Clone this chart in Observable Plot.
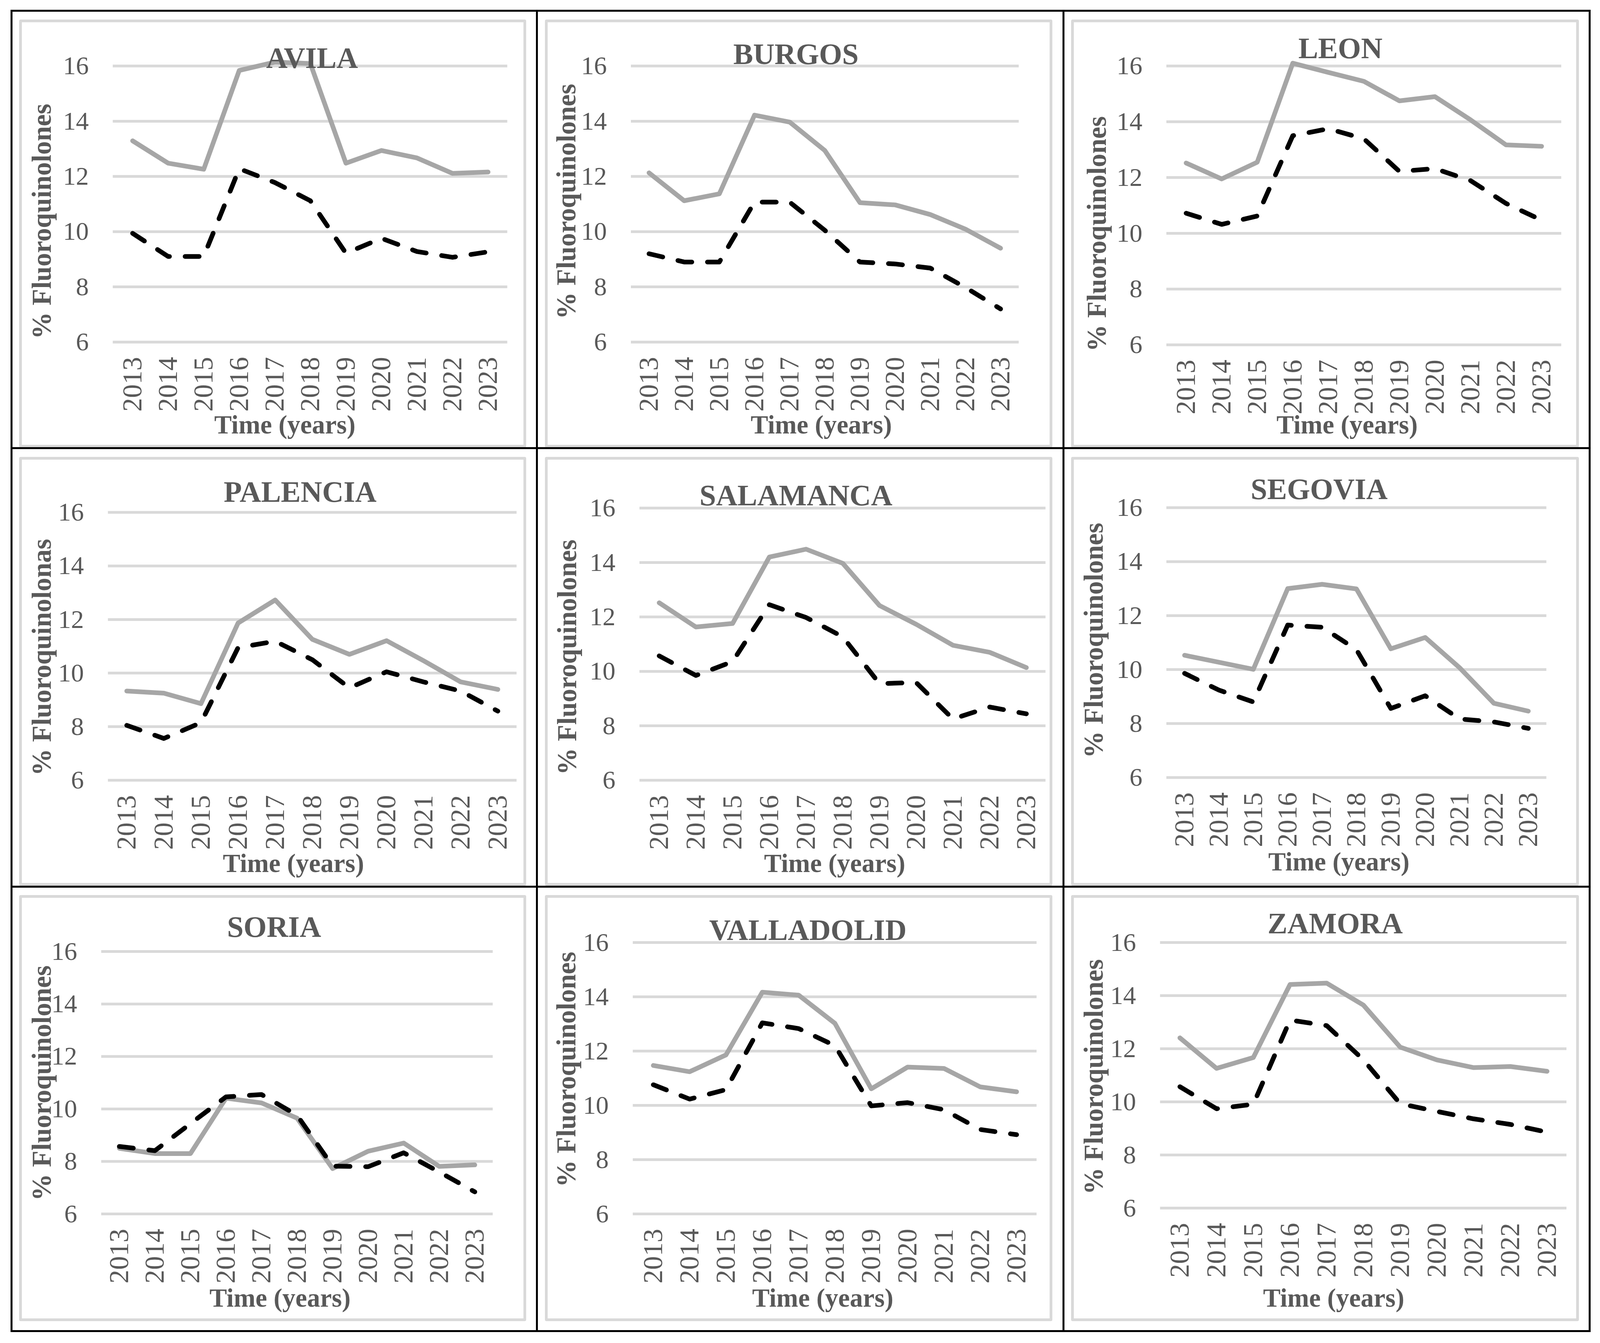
<!DOCTYPE html>
<html><head><meta charset="utf-8">
<script src="https://cdn.jsdelivr.net/npm/d3@7"></script>
<script src="https://cdn.jsdelivr.net/npm/@observablehq/plot@0.6"></script>
<style>
html,body{margin:0;padding:0;background:#fff;overflow:hidden;}
#page{position:relative;background:#fff;overflow:hidden;}
.hline,.vline{position:absolute;background:#000;}
.box{position:absolute;box-sizing:border-box;border:7px solid #d9d9d9;border-radius:4px;}
.panel{position:absolute;}
.panel svg{overflow:visible;}
</style></head><body><div id="page"></div>
<script>
// ---------- data ----------
const years = [2013, 2014, 2015, 2016, 2017, 2018, 2019, 2020, 2021, 2022, 2023];
const provinces = ["AVILA", "BURGOS", "LEON", "PALENCIA", "SALAMANCA", "SEGOVIA", "SORIA", "VALLADOLID", "ZAMORA"];
const yAxisTitles = ["% Fluoroquinolones", "% Fluoroquinolones", "% Fluoroquinolones",
  "% Fluoroquinolonas", "% Fluoroquinolones", "% Fluoroquinolones",
  "% Fluoroquinolones", "% Fluoroquinolones", "% Fluoroquinolones"];
const xAxisTitle = "Time (years)";
const yTicks = [6, 8, 10, 12, 14, 16];

const avilaSolid      = [13.29, 12.48, 12.26, 15.84, 16.14, 16.09, 12.48, 12.94, 12.67, 12.11, 12.16];
const avilaDashed     = [9.94, 9.10, 9.10, 12.28, 11.78, 11.12, 9.22, 9.76, 9.28, 9.07, 9.27];
const burgosSolid     = [12.13, 11.12, 11.37, 14.22, 13.97, 12.94, 11.05, 10.97, 10.62, 10.09, 9.40];
const burgosDashed    = [9.20, 8.90, 8.90, 11.07, 11.07, 10.05, 8.90, 8.83, 8.68, 7.98, 7.20];
const leonSolid       = [12.52, 11.95, 12.55, 16.10, 15.77, 15.45, 14.75, 14.90, 14.07, 13.17, 13.12];
const leonDashed      = [10.72, 10.32, 10.62, 13.50, 13.75, 13.39, 12.22, 12.32, 11.89, 11.07, 10.47];
const palenciaSolid   = [9.33, 9.25, 8.86, 11.87, 12.73, 11.26, 10.70, 11.21, 10.46, 9.67, 9.39];
const palenciaDashed  = [8.05, 7.56, 8.15, 10.95, 11.19, 10.50, 9.45, 10.05, 9.67, 9.33, 8.58];
const salamancaSolid  = [12.52, 11.63, 11.76, 14.20, 14.49, 13.97, 12.42, 11.73, 10.96, 10.70, 10.14];
const salamancaDashed = [10.57, 9.85, 10.36, 12.45, 11.98, 11.27, 9.55, 9.59, 8.25, 8.69, 8.44];
const segoviaSolid    = [10.53, 10.27, 10.01, 13.00, 13.16, 12.99, 10.77, 11.19, 10.07, 8.75, 8.46];
const segoviaDashed   = [9.86, 9.24, 8.80, 11.65, 11.57, 10.74, 8.56, 9.03, 8.17, 8.06, 7.82];
const soriaSolid      = [8.50, 8.30, 8.30, 10.41, 10.23, 9.65, 7.73, 8.39, 8.70, 7.81, 7.87];
const soriaDashed     = [8.57, 8.41, 9.44, 10.46, 10.55, 9.76, 7.82, 7.80, 8.33, 7.60, 6.84];
const valladolidSolid = [11.47, 11.24, 11.86, 14.17, 14.06, 13.02, 10.61, 11.41, 11.36, 10.68, 10.50];
const valladolidDashed= [10.76, 10.23, 10.58, 13.04, 12.83, 12.20, 9.98, 10.10, 9.84, 9.11, 8.92];
const zamoraSolid     = [12.41, 11.26, 11.67, 14.42, 14.47, 13.64, 12.06, 11.58, 11.29, 11.33, 11.15];
const zamoraDashed    = [10.57, 9.74, 9.91, 13.08, 12.87, 11.58, 9.93, 9.64, 9.36, 9.15, 8.86];

const solidSeries = [avilaSolid, burgosSolid, leonSolid, palenciaSolid, salamancaSolid, segoviaSolid, soriaSolid, valladolidSolid, zamoraSolid];
const dashedSeries = [avilaDashed, burgosDashed, leonDashed, palenciaDashed, salamancaDashed, segoviaDashed, soriaDashed, valladolidDashed, zamoraDashed];

// ---------- layout (design pixels on a 4299 x 3439 frame; mapped onto the real viewport) ----------
const PAGE_W = 4299, PAGE_H = 3439;
const colX = [30.5, 1443, 2857, 4271];
const rowY = [27.5, 1147.5, 2270, 3408];
const layout = [
  {l:303,  r:1363, t:168,  b:875,  tx:838,  ty:173,  yx:113,  yy:566,  xx:765,  xy:1109},
  {l:1695, r:2737, t:168,  b:875,  tx:2138, ty:163,  yx:1522, yy:515,  xx:2206, xy:1109},
  {l:3134, r:4195, t:168,  b:882,  tx:3601, ty:148,  yx:2948, yy:598,  xx:3619, xy:1109},
  {l:290,  r:1388, t:1311, b:1997, tx:806,  ty:1284, yx:113,  yy:1682, xx:788,  xy:2232},
  {l:1718, r:2809, t:1300, b:1997, tx:2138, ty:1293, yx:1524, yy:1682, xx:2242, xy:2232},
  {l:3134, r:4155, t:1299, b:1990, tx:3544, ty:1277, yx:2939, yy:1639, xx:3597, xy:2228},
  {l:272,  r:1324, t:2436, b:3108, tx:736,  ty:2399, yx:113,  yy:2773, xx:752,  xy:3346},
  {l:1700, r:2785, t:2413, b:3108, tx:2170, ty:2407, yx:1522, yy:2738, xx:2210, xy:3346},
  {l:3117, r:4209, t:2413, b:3093, tx:3587, ty:2390, yx:2939, yy:2757, xx:3583, xy:3346}
];

const vw = document.documentElement.clientWidth || window.innerWidth || PAGE_W;
const vh = document.documentElement.clientHeight || window.innerHeight || PAGE_H;
const sx = Math.min(1, vw / PAGE_W), sy = Math.min(1, vh / PAGE_H);
const X = v => v * sx, Y = v => v * sy;

const page = document.getElementById("page");
page.style.width = X(PAGE_W) + "px";
page.style.height = Y(PAGE_H) + "px";
function div(cls, css){ const d=document.createElement("div"); d.className=cls; Object.assign(d.style, css); page.appendChild(d); return d; }

for (let row=0; row<3; row++) for (let col=0; col<3; col++) {
  const x0 = X(colX[col]+21), x1 = X(colX[col+1]-29), y0 = Y(rowY[row]+22), y1 = Y(rowY[row+1]-(row===2?25:2));
  div("box", {left:x0+"px", top:y0+"px", width:(x1-x0)+"px", height:(y1-y0)+"px"});
}
colX.forEach(x => div("vline", {left:(X(x)-2.5)+"px", top:(Y(rowY[0])-2.5)+"px", width:"5px", height:(Y(rowY[3])-Y(rowY[0])+5)+"px"}));
rowY.forEach(y => div("hline", {left:(X(colX[0])-2.5)+"px", top:(Y(y)-2.5)+"px", height:"5px", width:(X(colX[3])-X(colX[0])+5)+"px"}));

const font = "'Liberation Serif', 'Times New Roman', serif";
provinces.forEach((name, i) => {
  const L = layout[i];
  const col = i % 3, row = Math.floor(i / 3);
  const cx0 = X(colX[col]), cx1 = X(colX[col+1]), cy0 = Y(rowY[row]), cy1 = Y(rowY[row+1]);
  const W = cx1 - cx0, H = cy1 - cy0;
  const l = X(L.l), r = X(L.r), t = Y(L.t), b = Y(L.b);
  const fcx = (l + r) / 2, fcy = (t + b) / 2;
  const rows = years.map((yr, j) => ({year: String(yr), solid: solidSeries[i][j], dashed: dashedSeries[i][j]}));
  const chart = Plot.plot({
    width: W, height: H,
    marginLeft: l - cx0, marginRight: cx1 - r, marginTop: t - cy0, marginBottom: cy1 - b,
    x: {type: "point", domain: years.map(String), padding: 0.5},
    y: {domain: [6, 16]},
    style: {fontFamily: font, fontSize: "66px", color: "#595959", background: "transparent", overflow: "visible"},
    marks: [
      Plot.gridY(yTicks, {stroke: "#d9d9d9", strokeOpacity: 1, strokeWidth: 7}),
      Plot.axisY(yTicks, {tickSize: 0, tickPadding: 62, label: null, tickFormat: d => String(d), fontSize: 66}),
      Plot.axisX({tickSize: 0, tickRotate: -90, tickPadding: 38, label: null, fontSize: 70}),
      Plot.line(rows, {x: "year", y: "solid", stroke: "#a6a6a6", strokeWidth: 12, strokeLinejoin: "round", strokeLinecap: "round"}),
      Plot.line(rows, {x: "year", y: "dashed", stroke: "#000000", strokeWidth: 12, strokeDasharray: "36,40", strokeLinecap: "round", strokeLinejoin: "round"}),
      Plot.text([name], {text: d => d, frameAnchor: "top", dx: X(L.tx) - fcx, dy: Y(L.ty) - t, lineAnchor: "bottom", fontWeight: "bold", fontSize: 76, fill: "#595959"}),
      Plot.text([yAxisTitles[i]], {text: d => d, frameAnchor: "left", rotate: -90, dx: X(L.yx) - l, dy: Y(L.yy) - fcy, lineAnchor: "middle", textAnchor: "middle", fontWeight: "bold", fontSize: 69, fill: "#595959"}),
      Plot.text([xAxisTitle], {text: d => d, frameAnchor: "bottom", dx: X(L.xx) - fcx, dy: Y(L.xy) - b, lineAnchor: "bottom", fontWeight: "bold", fontSize: 67, fill: "#595959"})
    ]
  });
  const p = div("panel", {left: cx0 + "px", top: cy0 + "px", width: W + "px", height: H + "px"});
  p.appendChild(chart);
});
</script></body></html>
